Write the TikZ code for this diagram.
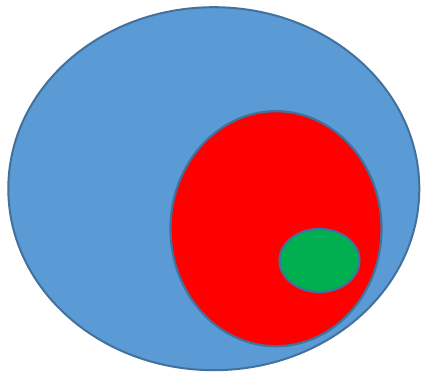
\documentclass[tikz,border=0pt]{standalone}
\usepackage{tikz}
\usetikzlibrary{shapes.geometric}
\definecolor{setblue}{HTML}{5B9BD5}
\definecolor{setedge}{HTML}{41719C}
\definecolor{setgreen}{HTML}{00B050}
\begin{document}
\begin{tikzpicture}[x=1pt,y=-1pt,
 setouter/.style={ellipse,draw=setedge,fill=setblue,line width=2pt,inner sep=0pt},
 setmiddle/.style={ellipse,draw=setedge,fill=red,line width=2.2pt,inner sep=0pt},
 setinner/.style={ellipse,draw=setedge,fill=setgreen,line width=2.2pt,inner sep=0pt}]
\useasboundingbox (0,0) rectangle (424,372);
\node[setouter,minimum width=411pt,minimum height=363pt] (outer) at (213.8,188.7) {};
\node[setmiddle,minimum width=211pt,minimum height=235pt] (middle) at (276,228.7) {};
\node[setinner,minimum width=80pt,minimum height=63pt] (inner) at (319.5,260.5) {};
\end{tikzpicture}
\end{document}
